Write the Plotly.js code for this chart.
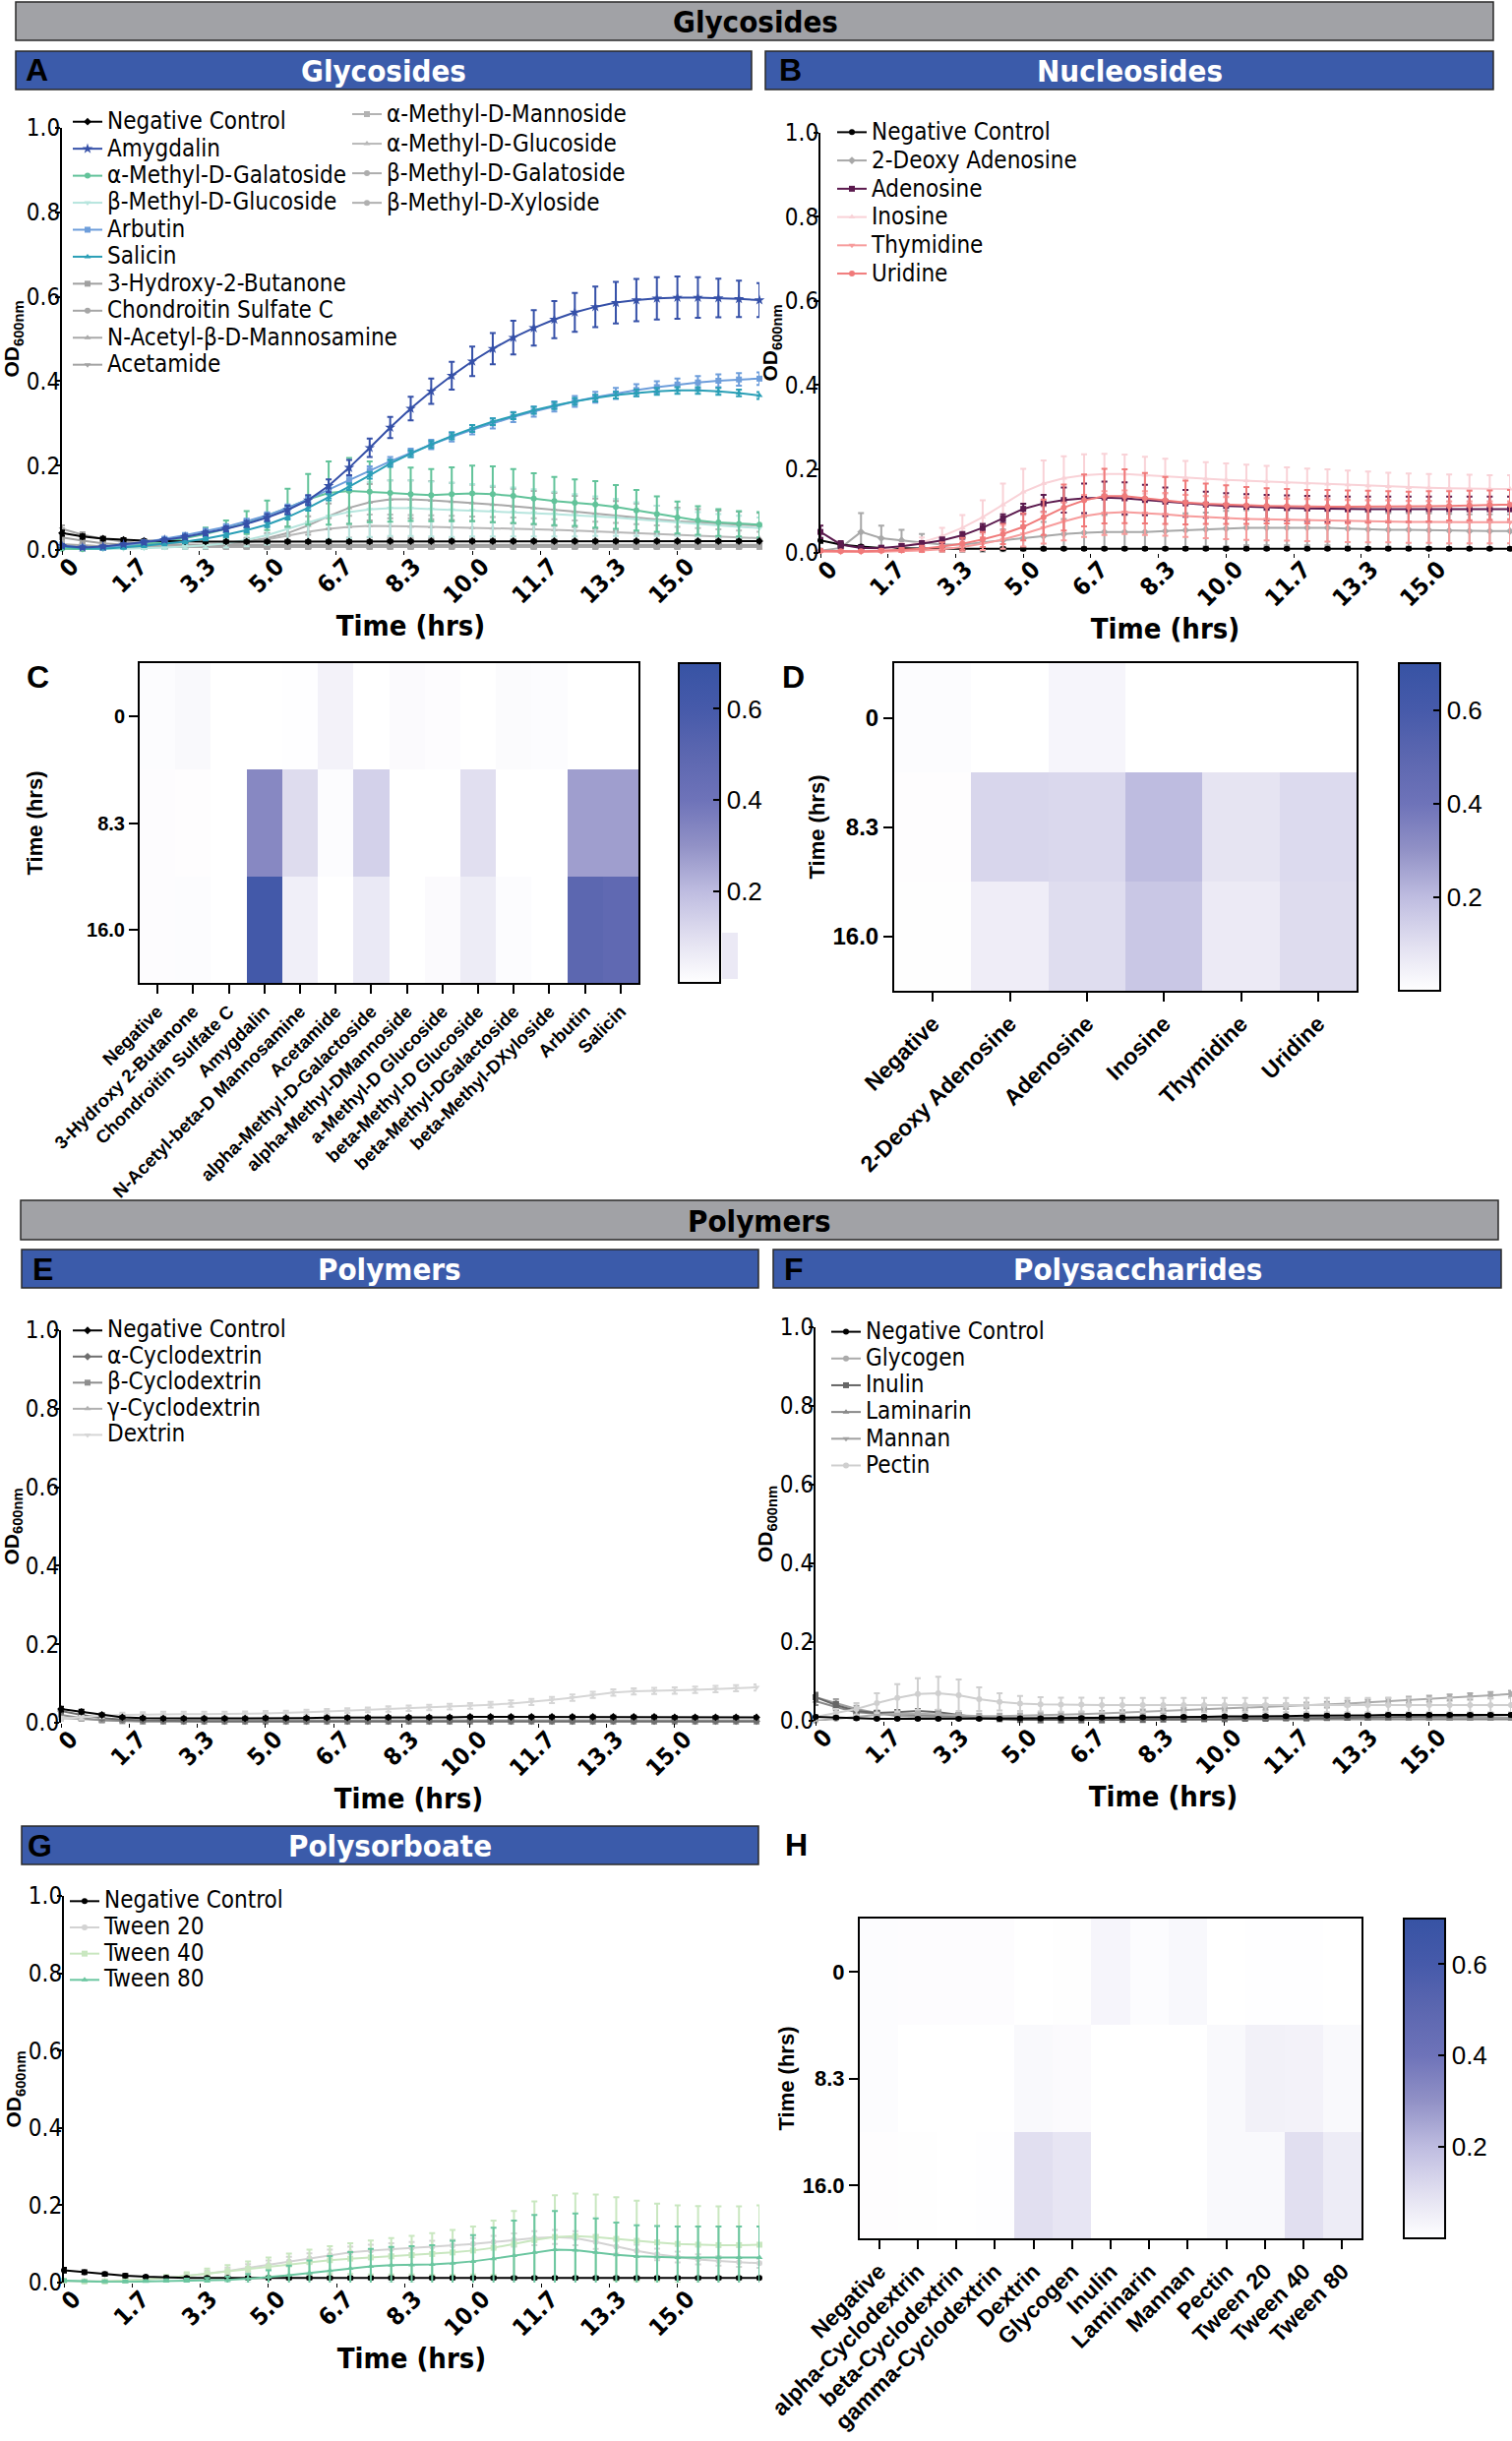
<!DOCTYPE html>
<html>
<head>
<meta charset="utf-8">
<script src="https://cdn.plot.ly/plotly-3.0.1.min.js"></script>
<style>
  html, body { margin: 0; padding: 0; background: #fff; }
  #fig { width: 1537px; height: 2481px; }
</style>
</head>
<body>
<div id="fig"></div>
<script>
// sampling times (hrs) and x tick labels shared by all growth curves
const timeHrs = [0,0.5,1,1.5,2,2.5,3, 3.5,4,4.5,5,5.5,6,6.5, 7,7.5,8,8.5,9,9.5,10, 10.5,11,11.5,12,12.5,13,13.5, 14,14.5,15,15.5,16,16.5,17];
const timeTickVals = [0, 5/3, 10/3, 5, 20/3, 25/3, 10, 35/3, 40/3, 15];
const timeTickText = ['0','1.7','3.3','5.0','6.7','8.3','10.0','11.7','13.3','15.0'];

// A - Glycosides (mean OD600 and SD)
const glyNegMean = [0.040,0.032,0.027,0.024,0.022,0.021,0.020, 0.020,0.020,0.020,0.020,0.020,0.020,0.020, 0.020,0.020,0.021,0.021,0.021,0.021,0.021, 0.021,0.021,0.021,0.021,0.021,0.021,0.021, 0.021,0.021,0.021,0.021,0.021,0.021,0.021];
const glyNegErr = [0.006,0.005,0.004,0.004,0.003,0.003,0.003, 0.003,0.003,0.003,0.003,0.003,0.003,0.003, 0.003,0.003,0.003,0.003,0.003,0.003,0.003, 0.003,0.003,0.003,0.003,0.003,0.003,0.003, 0.003,0.003,0.003,0.003,0.003,0.003,0.003];
const amyMean = [0.010,0.006,0.008,0.013,0.018,0.024,0.031, 0.040,0.050,0.062,0.077,0.095,0.118,0.152, 0.195,0.242,0.290,0.335,0.376,0.413,0.447, 0.477,0.503,0.526,0.546,0.563,0.576,0.586, 0.592,0.596,0.598,0.598,0.597,0.595,0.592];
const amyErr = [0.004,0.003,0.003,0.003,0.004,0.004,0.005, 0.005,0.006,0.007,0.008,0.010,0.012,0.015, 0.018,0.022,0.025,0.028,0.030,0.033,0.035, 0.037,0.040,0.042,0.044,0.046,0.048,0.049, 0.050,0.050,0.050,0.048,0.046,0.043,0.040];
const arbMean = [0.010,0.006,0.005,0.010,0.018,0.026,0.035, 0.045,0.055,0.068,0.082,0.100,0.120,0.143, 0.165,0.188,0.210,0.230,0.250,0.268,0.285, 0.300,0.315,0.328,0.340,0.352,0.362,0.371, 0.379,0.386,0.392,0.397,0.401,0.404,0.406];
const arbErr = [0.004,0.004,0.004,0.004,0.004,0.005,0.005, 0.005,0.006,0.006,0.007,0.008,0.008,0.009, 0.009,0.010,0.010,0.010,0.011,0.011,0.011, 0.012,0.012,0.012,0.012,0.013,0.013,0.013, 0.014,0.014,0.014,0.015,0.015,0.015,0.015];
const salMean = [0.008,0.004,0.003,0.006,0.010,0.015,0.020, 0.027,0.036,0.047,0.060,0.078,0.100,0.125, 0.150,0.177,0.205,0.228,0.250,0.270,0.288, 0.304,0.318,0.331,0.342,0.352,0.360,0.367, 0.372,0.376,0.378,0.378,0.376,0.372,0.366];
const salErr = [0.004,0.003,0.003,0.003,0.003,0.004,0.004, 0.004,0.005,0.005,0.006,0.006,0.007,0.007, 0.008,0.008,0.008,0.008,0.008,0.008,0.008, 0.008,0.008,0.008,0.008,0.008,0.008,0.008, 0.008,0.008,0.008,0.008,0.008,0.008,0.008];
const aGalMean = [0.003,0.002,0.004,0.008,0.014,0.020,0.028, 0.038,0.050,0.065,0.082,0.100,0.120,0.135, 0.140,0.138,0.135,0.132,0.130,0.132,0.134, 0.132,0.128,0.122,0.116,0.112,0.108,0.102, 0.094,0.085,0.077,0.070,0.065,0.062,0.060];
const aGalErr = [0.003,0.003,0.003,0.003,0.003,0.006,0.010, 0.015,0.020,0.027,0.035,0.045,0.060,0.075, 0.078,0.072,0.068,0.063,0.062,0.064,0.066, 0.066,0.064,0.060,0.057,0.055,0.055,0.052, 0.048,0.042,0.038,0.034,0.032,0.030,0.030];
const bGluMean = [0.003,0.002,0.002,0.003,0.004,0.006,0.008, 0.011,0.016,0.024,0.035,0.050,0.066,0.080, 0.090,0.096,0.099,0.099,0.097,0.095,0.094, 0.092,0.090,0.088,0.085,0.082,0.080,0.077, 0.073,0.069,0.065,0.061,0.058,0.055,0.052];
const bGluErr = [0.003,0.003,0.003,0.003,0.003,0.004,0.005, 0.007,0.010,0.015,0.022,0.032,0.045,0.055, 0.062,0.065,0.066,0.066,0.065,0.064,0.062, 0.060,0.058,0.056,0.053,0.050,0.047,0.044, 0.040,0.036,0.032,0.029,0.027,0.026,0.025];
const hydMean = [0.030,0.022,0.016,0.013,0.012,0.011,0.011, 0.011,0.010,0.010,0.010,0.010,0.010,0.010, 0.010,0.010,0.010,0.010,0.010,0.010,0.010, 0.010,0.010,0.010,0.010,0.010,0.010,0.010, 0.010,0.010,0.010,0.010,0.010,0.010,0.010];
const hydErr = [0.006,0.005,0.004,0.004,0.004,0.004,0.004, 0.004,0.004,0.004,0.004,0.004,0.004,0.004, 0.004,0.004,0.004,0.004,0.004,0.004,0.004, 0.004,0.004,0.004,0.004,0.004,0.004,0.004, 0.004,0.004,0.004,0.004,0.004,0.004,0.004];
const chonMean = [0.012,0.010,0.009,0.009,0.008,0.008,0.008, 0.008,0.008,0.008,0.008,0.008,0.008,0.008, 0.008,0.008,0.008,0.008,0.008,0.008,0.008, 0.008,0.008,0.008,0.008,0.008,0.008,0.008, 0.008,0.008,0.008,0.008,0.008,0.008,0.008];
const chonErr = [0.004,0.004,0.004,0.004,0.004,0.004,0.004, 0.004,0.004,0.004,0.004,0.004,0.004,0.004, 0.004,0.004,0.004,0.004,0.004,0.004,0.004, 0.004,0.004,0.004,0.004,0.004,0.004,0.004, 0.004,0.004,0.004,0.004,0.004,0.004,0.004];
const nacMean = [0.010,0.008,0.007,0.007,0.008,0.009,0.010, 0.012,0.015,0.020,0.028,0.040,0.058,0.080, 0.100,0.113,0.120,0.120,0.118,0.115,0.112, 0.108,0.104,0.100,0.096,0.091,0.086,0.081, 0.076,0.072,0.068,0.065,0.062,0.060,0.058];
const nacErr = [0.004,0.004,0.004,0.004,0.004,0.004,0.004, 0.005,0.006,0.008,0.011,0.016,0.022,0.030, 0.038,0.043,0.045,0.045,0.045,0.044,0.043, 0.042,0.041,0.040,0.039,0.037,0.036,0.035, 0.034,0.033,0.032,0.032,0.031,0.031,0.030];
const acetMean = [0.050,0.036,0.026,0.020,0.016,0.014,0.013, 0.012,0.012,0.012,0.012,0.012,0.012,0.012, 0.012,0.012,0.012,0.012,0.012,0.012,0.012, 0.012,0.012,0.012,0.012,0.012,0.012,0.012, 0.012,0.012,0.012,0.012,0.012,0.012,0.012];
const acetErr = [0.008,0.006,0.005,0.004,0.004,0.004,0.004, 0.004,0.004,0.004,0.004,0.004,0.004,0.004, 0.004,0.004,0.004,0.004,0.004,0.004,0.004, 0.004,0.004,0.004,0.004,0.004,0.004,0.004, 0.004,0.004,0.004,0.004,0.004,0.004,0.004];
const aManMean = [0.014,0.011,0.009,0.008,0.007,0.007,0.007, 0.007,0.007,0.007,0.007,0.007,0.007,0.007, 0.007,0.007,0.007,0.007,0.007,0.007,0.007, 0.007,0.007,0.007,0.007,0.007,0.007,0.007, 0.007,0.007,0.007,0.007,0.007,0.007,0.007];
const aManErr = [0.003,0.003,0.003,0.003,0.003,0.003,0.003, 0.003,0.003,0.003,0.003,0.003,0.003,0.003, 0.003,0.003,0.003,0.003,0.003,0.003,0.003, 0.003,0.003,0.003,0.003,0.003,0.003,0.003, 0.003,0.003,0.003,0.003,0.003,0.003,0.003];
const aGluMean = [0.010,0.008,0.006,0.006,0.006,0.007,0.008, 0.010,0.013,0.018,0.025,0.034,0.043,0.050, 0.055,0.057,0.057,0.056,0.055,0.054,0.053, 0.052,0.051,0.050,0.048,0.046,0.044,0.042, 0.040,0.038,0.036,0.034,0.032,0.030,0.028];
const aGluErr = [0.004,0.004,0.004,0.004,0.004,0.004,0.005, 0.006,0.008,0.011,0.015,0.019,0.022,0.025, 0.026,0.027,0.027,0.027,0.027,0.027,0.026, 0.026,0.026,0.025,0.025,0.024,0.023,0.022, 0.021,0.020,0.019,0.018,0.017,0.016,0.015];
const bGalMean = [0.011,0.009,0.008,0.008,0.008,0.008,0.008, 0.008,0.008,0.008,0.008,0.008,0.008,0.008, 0.008,0.008,0.008,0.008,0.008,0.008,0.008, 0.008,0.008,0.008,0.008,0.008,0.008,0.008, 0.008,0.008,0.008,0.008,0.008,0.008,0.008];
const bGalErr = [0.003,0.003,0.003,0.003,0.003,0.003,0.003, 0.003,0.003,0.003,0.003,0.003,0.003,0.003, 0.003,0.003,0.003,0.003,0.003,0.003,0.003, 0.003,0.003,0.003,0.003,0.003,0.003,0.003, 0.003,0.003,0.003,0.003,0.003,0.003,0.003];
const bXylMean = [0.012,0.009,0.008,0.007,0.007,0.007,0.007, 0.007,0.007,0.007,0.007,0.007,0.007,0.007, 0.007,0.007,0.007,0.007,0.007,0.007,0.007, 0.007,0.007,0.007,0.007,0.007,0.007,0.007, 0.007,0.007,0.007,0.007,0.007,0.007,0.007];
const bXylErr = [0.003,0.003,0.003,0.003,0.003,0.003,0.003, 0.003,0.003,0.003,0.003,0.003,0.003,0.003, 0.003,0.003,0.003,0.003,0.003,0.003,0.003, 0.003,0.003,0.003,0.003,0.003,0.003,0.003, 0.003,0.003,0.003,0.003,0.003,0.003,0.003];

// B - Nucleosides
const nucNegMean = [0.030,0.020,0.015,0.012,0.011,0.010,0.010, 0.010,0.010,0.010,0.010,0.010,0.010,0.010, 0.010,0.010,0.010,0.010,0.010,0.010,0.010, 0.010,0.010,0.010,0.010,0.010,0.010,0.010, 0.010,0.010,0.010,0.010,0.010,0.010,0.010];
const nucNegErr = [0.006,0.004,0.003,0.003,0.003,0.003,0.003, 0.003,0.003,0.003,0.003,0.003,0.003,0.003, 0.003,0.003,0.003,0.003,0.003,0.003,0.003, 0.003,0.003,0.003,0.003,0.003,0.003,0.003, 0.003,0.003,0.003,0.003,0.003,0.003,0.003];
const deoxyMean = [0.005,0.012,0.050,0.035,0.030,0.025,0.020, 0.020,0.025,0.030,0.035,0.040,0.045,0.048, 0.050,0.050,0.050,0.052,0.054,0.056,0.058, 0.060,0.060,0.060,0.060,0.060,0.058,0.056, 0.055,0.055,0.054,0.053,0.052,0.052,0.052];
const deoxyErr = [0.005,0.010,0.045,0.030,0.025,0.020,0.018, 0.018,0.022,0.026,0.030,0.034,0.036,0.038, 0.040,0.040,0.040,0.040,0.040,0.040,0.042, 0.042,0.042,0.042,0.042,0.042,0.042,0.042, 0.040,0.040,0.040,0.040,0.040,0.040,0.040];
const adenMean = [0.050,0.020,0.012,0.012,0.016,0.022,0.030, 0.042,0.060,0.082,0.105,0.118,0.126,0.130, 0.132,0.130,0.126,0.122,0.118,0.115,0.112, 0.110,0.108,0.107,0.106,0.105,0.104,0.104, 0.104,0.104,0.104,0.104,0.104,0.104,0.104];
const adenErr = [0.015,0.008,0.005,0.005,0.005,0.006,0.007, 0.008,0.009,0.010,0.012,0.020,0.030,0.035, 0.038,0.038,0.036,0.034,0.032,0.031,0.030, 0.030,0.030,0.030,0.030,0.030,0.030,0.030, 0.030,0.030,0.030,0.030,0.030,0.030,0.030];
const inoMean = [0.005,0.003,0.004,0.008,0.015,0.025,0.040, 0.060,0.085,0.115,0.145,0.165,0.178,0.185, 0.188,0.188,0.185,0.182,0.179,0.176,0.174, 0.172,0.170,0.168,0.166,0.164,0.162,0.160, 0.158,0.156,0.155,0.154,0.153,0.152,0.152];
const inoErr = [0.003,0.003,0.003,0.005,0.008,0.012,0.020, 0.030,0.040,0.050,0.055,0.055,0.052,0.050, 0.048,0.046,0.044,0.042,0.040,0.040,0.039, 0.038,0.037,0.036,0.035,0.035,0.034,0.034, 0.033,0.033,0.033,0.033,0.033,0.033,0.033];
const thyMean = [0.003,0.002,0.002,0.003,0.004,0.006,0.009, 0.014,0.022,0.032,0.045,0.060,0.075,0.088, 0.095,0.097,0.095,0.092,0.088,0.085,0.083, 0.081,0.080,0.079,0.078,0.077,0.076,0.075, 0.075,0.074,0.074,0.073,0.073,0.073,0.073];
const thyErr = [0.003,0.003,0.003,0.003,0.003,0.004,0.006, 0.010,0.015,0.022,0.030,0.038,0.045,0.050, 0.052,0.052,0.052,0.051,0.050,0.050,0.050, 0.050,0.050,0.050,0.050,0.050,0.050,0.050, 0.050,0.050,0.050,0.050,0.050,0.050,0.050];
const uriMean = [0.005,0.004,0.004,0.005,0.007,0.010,0.015, 0.022,0.032,0.045,0.062,0.085,0.108,0.125, 0.135,0.135,0.130,0.125,0.120,0.117,0.115, 0.113,0.112,0.111,0.110,0.110,0.110,0.110, 0.110,0.110,0.111,0.112,0.113,0.114,0.115];
const uriErr = [0.004,0.003,0.003,0.004,0.005,0.007,0.010, 0.014,0.018,0.024,0.032,0.042,0.055,0.062, 0.065,0.064,0.060,0.056,0.052,0.048,0.046, 0.044,0.042,0.041,0.040,0.040,0.039,0.038, 0.037,0.036,0.036,0.035,0.035,0.035,0.035];

// E - Polymers
const polNegMean = [0.035,0.028,0.020,0.014,0.012,0.011,0.011, 0.011,0.011,0.011,0.012,0.012,0.012,0.013, 0.013,0.013,0.014,0.014,0.014,0.014,0.015, 0.015,0.015,0.015,0.015,0.015,0.015,0.015, 0.015,0.015,0.014,0.014,0.014,0.014,0.014];
const polNegErr = [0.006,0.005,0.004,0.003,0.003,0.003,0.003, 0.003,0.003,0.003,0.003,0.003,0.003,0.003, 0.003,0.003,0.003,0.003,0.003,0.003,0.003, 0.003,0.003,0.003,0.003,0.003,0.003,0.003, 0.003,0.003,0.003,0.003,0.003,0.003,0.003];
const aCycMean = [0.030,0.020,0.012,0.008,0.006,0.005,0.004, 0.004,0.004,0.004,0.004,0.004,0.004,0.004, 0.004,0.004,0.004,0.004,0.004,0.004,0.004, 0.004,0.004,0.004,0.004,0.004,0.004,0.004, 0.004,0.004,0.004,0.004,0.004,0.004,0.004];
const aCycErr = [0.006,0.005,0.004,0.003,0.003,0.003,0.003, 0.003,0.003,0.003,0.003,0.003,0.003,0.003, 0.003,0.003,0.003,0.003,0.003,0.003,0.003, 0.003,0.003,0.003,0.003,0.003,0.003,0.003, 0.003,0.003,0.003,0.003,0.003,0.003,0.003];
const bCycMean = [0.020,0.012,0.006,0.004,0.003,0.003,0.003, 0.003,0.003,0.003,0.003,0.003,0.003,0.003, 0.003,0.003,0.003,0.003,0.003,0.003,0.003, 0.003,0.003,0.003,0.003,0.003,0.003,0.003, 0.003,0.003,0.003,0.003,0.003,0.003,0.003];
const bCycErr = [0.008,0.005,0.004,0.003,0.003,0.003,0.003, 0.003,0.003,0.003,0.003,0.003,0.003,0.003, 0.003,0.003,0.003,0.003,0.003,0.003,0.003, 0.003,0.003,0.003,0.003,0.003,0.003,0.003, 0.003,0.003,0.003,0.003,0.003,0.003,0.003];
const gCycMean = [0.012,0.009,0.007,0.006,0.006,0.006,0.006, 0.006,0.006,0.006,0.006,0.006,0.006,0.006, 0.006,0.006,0.006,0.006,0.006,0.006,0.006, 0.006,0.006,0.006,0.006,0.006,0.006,0.006, 0.006,0.006,0.006,0.006,0.006,0.006,0.006];
const gCycErr = [0.004,0.004,0.004,0.004,0.004,0.004,0.004, 0.004,0.004,0.004,0.004,0.004,0.004,0.004, 0.004,0.004,0.004,0.004,0.004,0.004,0.004, 0.004,0.004,0.004,0.004,0.004,0.004,0.004, 0.004,0.004,0.004,0.004,0.004,0.004,0.004];
const dextMean = [0.010,0.014,0.018,0.020,0.021,0.022,0.022, 0.022,0.022,0.023,0.024,0.025,0.027,0.029, 0.031,0.033,0.035,0.037,0.039,0.041,0.043, 0.046,0.049,0.053,0.058,0.064,0.071,0.077, 0.080,0.081,0.082,0.084,0.086,0.088,0.090];
const dextErr = [0.005,0.006,0.006,0.006,0.006,0.006,0.006, 0.006,0.006,0.006,0.006,0.006,0.006,0.006, 0.006,0.006,0.007,0.007,0.007,0.007,0.007, 0.007,0.008,0.008,0.008,0.008,0.008,0.008, 0.008,0.008,0.008,0.008,0.008,0.008,0.008];

// F - Polysaccharides
const psNegMean = [0.010,0.008,0.006,0.005,0.005,0.005,0.005, 0.005,0.005,0.005,0.006,0.006,0.007,0.007, 0.008,0.008,0.009,0.009,0.010,0.010,0.011, 0.011,0.012,0.012,0.013,0.013,0.014,0.014, 0.015,0.015,0.015,0.015,0.015,0.015,0.015];
const psNegErr = [0.003,0.003,0.003,0.003,0.003,0.003,0.003, 0.003,0.003,0.003,0.003,0.003,0.003,0.003, 0.003,0.003,0.003,0.003,0.003,0.003,0.003, 0.003,0.003,0.003,0.003,0.003,0.003,0.003, 0.003,0.003,0.003,0.003,0.003,0.003,0.003];
const glycMean = [0.000,0.005,0.010,0.015,0.018,0.018,0.016, 0.014,0.012,0.012,0.013,0.014,0.015,0.017, 0.019,0.021,0.023,0.025,0.027,0.029,0.031, 0.033,0.035,0.037,0.039,0.041,0.044,0.047, 0.050,0.053,0.056,0.059,0.062,0.065,0.068];
const glycErr = [0.004,0.005,0.006,0.006,0.006,0.006,0.006, 0.006,0.006,0.006,0.006,0.006,0.006,0.006, 0.006,0.006,0.006,0.006,0.006,0.006,0.006, 0.007,0.007,0.007,0.007,0.007,0.007,0.007, 0.008,0.008,0.008,0.008,0.008,0.008,0.008];
const inulMean = [0.060,0.040,0.025,0.020,0.022,0.025,0.022, 0.015,0.008,0.004,0.002,0.001,0.001,0.001, 0.001,0.002,0.002,0.003,0.003,0.004,0.004, 0.005,0.005,0.006,0.006,0.007,0.008,0.009, 0.010,0.011,0.012,0.013,0.014,0.015,0.015];
const inulErr = [0.010,0.008,0.006,0.005,0.005,0.005,0.005, 0.004,0.003,0.003,0.003,0.003,0.003,0.003, 0.003,0.003,0.003,0.003,0.003,0.003,0.003, 0.003,0.003,0.003,0.003,0.003,0.003,0.003, 0.003,0.003,0.003,0.003,0.003,0.003,0.003];
const lamMean = [0.050,0.035,0.022,0.018,0.016,0.014,0.012, 0.010,0.008,0.006,0.005,0.004,0.004,0.004, 0.004,0.004,0.004,0.004,0.004,0.004,0.004, 0.004,0.004,0.004,0.004,0.004,0.004,0.004, 0.004,0.004,0.004,0.004,0.004,0.004,0.004];
const lamErr = [0.010,0.008,0.006,0.005,0.004,0.004,0.004, 0.003,0.003,0.003,0.003,0.003,0.003,0.003, 0.003,0.003,0.003,0.003,0.003,0.003,0.003, 0.003,0.003,0.003,0.003,0.003,0.003,0.003, 0.003,0.003,0.003,0.003,0.003,0.003,0.003];
const mannMean = [0.060,0.045,0.030,0.020,0.012,0.010,0.009, 0.008,0.008,0.008,0.008,0.008,0.008,0.008, 0.008,0.008,0.008,0.008,0.008,0.008,0.008, 0.008,0.008,0.008,0.008,0.008,0.008,0.008, 0.008,0.008,0.008,0.008,0.008,0.008,0.008];
const mannErr = [0.012,0.010,0.008,0.006,0.004,0.004,0.004, 0.003,0.003,0.003,0.003,0.003,0.003,0.003, 0.003,0.003,0.003,0.003,0.003,0.003,0.003, 0.003,0.003,0.003,0.003,0.003,0.003,0.003, 0.003,0.003,0.003,0.003,0.003,0.003,0.003];
const pectMean = [0.010,0.020,0.030,0.045,0.058,0.068,0.070, 0.065,0.055,0.048,0.044,0.042,0.041,0.041, 0.040,0.040,0.040,0.040,0.040,0.040,0.040, 0.040,0.040,0.040,0.040,0.040,0.040,0.040, 0.040,0.040,0.040,0.040,0.040,0.040,0.040];
const pectErr = [0.005,0.010,0.015,0.025,0.035,0.040,0.042, 0.040,0.030,0.022,0.019,0.018,0.018,0.018, 0.018,0.018,0.018,0.018,0.018,0.018,0.018, 0.018,0.018,0.018,0.018,0.018,0.018,0.018, 0.018,0.018,0.018,0.018,0.018,0.018,0.018];

// G - Polysorboate
const sorbNegMean = [0.032,0.027,0.022,0.018,0.015,0.013,0.012, 0.012,0.012,0.012,0.012,0.012,0.012,0.012, 0.012,0.012,0.012,0.012,0.012,0.012,0.012, 0.012,0.012,0.012,0.012,0.012,0.012,0.012, 0.012,0.012,0.012,0.012,0.012,0.012,0.012];
const sorbNegErr = [0.006,0.005,0.004,0.004,0.003,0.003,0.003, 0.003,0.003,0.003,0.003,0.003,0.003,0.003, 0.003,0.003,0.003,0.003,0.003,0.003,0.003, 0.003,0.003,0.003,0.003,0.003,0.003,0.003, 0.003,0.003,0.003,0.003,0.003,0.003,0.003];
const tw20Mean = [0.004,0.003,0.003,0.005,0.008,0.012,0.017, 0.023,0.030,0.038,0.046,0.055,0.063,0.071, 0.078,0.083,0.087,0.090,0.093,0.096,0.100, 0.105,0.110,0.115,0.118,0.115,0.105,0.093, 0.082,0.073,0.066,0.060,0.056,0.053,0.050];
const tw20Err = [0.003,0.003,0.003,0.004,0.005,0.006,0.007, 0.008,0.009,0.010,0.011,0.012,0.013,0.014, 0.015,0.015,0.015,0.015,0.015,0.015,0.015, 0.016,0.017,0.018,0.018,0.018,0.018,0.018, 0.016,0.015,0.014,0.013,0.012,0.012,0.012];
const tw40Mean = [0.005,0.003,0.003,0.005,0.008,0.012,0.017, 0.023,0.029,0.035,0.041,0.047,0.053,0.058, 0.062,0.065,0.068,0.071,0.074,0.078,0.083, 0.090,0.100,0.110,0.118,0.120,0.118,0.113, 0.108,0.104,0.100,0.098,0.097,0.097,0.098];
const tw40Err = [0.003,0.003,0.003,0.004,0.006,0.008,0.010, 0.013,0.016,0.020,0.024,0.028,0.032,0.036, 0.040,0.044,0.047,0.050,0.054,0.058,0.062, 0.070,0.085,0.100,0.108,0.110,0.110,0.108, 0.104,0.100,0.100,0.100,0.100,0.100,0.102];
const tw80Mean = [0.005,0.003,0.002,0.002,0.003,0.004,0.005, 0.006,0.007,0.010,0.014,0.019,0.025,0.031, 0.037,0.042,0.045,0.046,0.047,0.050,0.055, 0.062,0.070,0.078,0.085,0.084,0.078,0.072, 0.068,0.066,0.065,0.065,0.065,0.065,0.065];
const tw80Err = [0.003,0.003,0.003,0.003,0.003,0.004,0.005, 0.006,0.008,0.012,0.018,0.025,0.032,0.038, 0.042,0.045,0.047,0.048,0.050,0.058,0.068, 0.080,0.090,0.097,0.100,0.095,0.088,0.083, 0.080,0.080,0.080,0.080,0.080,0.080,0.080];

// heatmaps (C, D, H): OD600 at 0, 8.3 and 16 hrs
const heatTimes = ['0', '8.3', '16.0'];
const glyHeatCats = ['Negative','3-Hydroxy 2-Butanone','Chondroitin Sulfate C','Amygdalin','N-Acetyl-beta-D Mannosamine','Acetamide','alpha-Methyl-D-Galactoside','alpha-Methyl-DMannoside','a-Methyl-D Glucoside','beta-Methyl-D Glucoside','beta-Methyl-DGalactoside','beta-Methyl-DXyloside','Arbutin','Salicin'];
const glyHeat0 = [0.010,0.020,0.000,0.000,0.003,0.040,0.000,0.015,0.008,0.000,0.012,0.010,0.000,0.000];
const glyHeat8 = [0.008,0.005,0.000,0.330,0.110,0.010,0.140,0.000,0.000,0.100,0.000,0.000,0.270,0.270];
const glyHeat16 = [0.008,0.010,0.000,0.620,0.050,0.000,0.070,0.000,0.015,0.060,0.010,0.000,0.500,0.480];
const nucHeatCats = ['Negative','2-Deoxy Adenosine','Adenosine','Inosine','Thymidine','Uridine'];
const nucHeat0 = [0.010,0.000,0.030,0.000,0.000,0.000];
const nucHeat8 = [0.005,0.125,0.120,0.200,0.085,0.115];
const nucHeat16 = [0.004,0.055,0.105,0.170,0.065,0.110];
const polHeatCats = ['Negative','alpha-Cyclodextrin','beta-Cyclodextrin','gamma-Cyclodextrin','Dextrin','Glycogen','Inulin','Laminarin','Mannan','Pectin','Tween 20','Tween 40','Tween 80'];
const polHeat0 = [0.010,0.008,0.008,0.008,0.000,0.004,0.030,0.010,0.022,0.000,0.002,0.002,0.000];
const polHeat8 = [0.010,0.000,0.000,0.000,0.020,0.015,0.000,0.000,0.000,0.020,0.045,0.040,0.020];
const polHeat16 = [0.005,0.004,0.000,0.003,0.100,0.080,0.000,0.000,0.000,0.020,0.020,0.100,0.060];

const heatScale = [[0,'#ffffff'],[0.143,'#e1dff0'],[0.286,'#bebce0'],[0.43,'#9191c6'],[0.571,'#6e73b9'],[0.714,'#5c67b0'],[0.857,'#465aaa'],[1,'#3753a4']];

// ---- page geometry (pixels -> paper) ----
const W = 1537, H = 2481;
const fx = p => p / W;
const fy = p => 1 - p / H;
const NARROW = '"Liberation Sans Narrow", "Arial Narrow", "DejaVu Sans Condensed", Arial, sans-serif';
const ARIAL = '"Liberation Sans", Arial, Helvetica, sans-serif';

function axId(n) { return n === 1 ? '' : String(n); }

function series(name, mean, err, color, symbol, n, legend, rank) {
  return {
    type: 'scatter', mode: 'lines+markers',
    x: timeHrs, y: mean,
    name: '<span style="font-size:24px">' + name + '</span>',
    xaxis: 'x' + axId(n), yaxis: 'y' + axId(n),
    legend: legend, legendrank: rank, cliponaxis: false,
    line: { color: color, width: 2 },
    marker: { color: color, symbol: symbol, size: symbol === 'star' ? 8 : 6 },
    error_y: { type: 'data', array: err, visible: true, color: color, thickness: 2, width: 3 },
    hoverinfo: 'skip'
  };
}

function heat(cats, rows, n, ca) {
  return {
    type: 'heatmap', x: cats, y: heatTimes, z: rows,
    xaxis: 'x' + n, yaxis: 'y' + n, coloraxis: ca, hoverinfo: 'skip'
  };
}

function timeAxis(x0, x1, anchor) {
  return {
    domain: [fx(x0), fx(x1)], anchor: anchor, range: [0, 17],
    tickvals: timeTickVals, ticktext: timeTickText, tickangle: -45,
    tickfont: { family: NARROW, size: 24, weight: 'bold', color: '#000' },
    ticks: 'outside', ticklen: 4, tickcolor: '#000',
    ticklabelstandoff: -12, ticklabelshift: 10,
    showline: false, showgrid: false, zeroline: false,
    title: { text: 'Time (hrs)', font: { family: NARROW, size: 29, weight: 'bold', color: '#000' }, standoff: 4 }
  };
}

function odAxis(y0, y1, anchor) {
  return {
    domain: [fy(y1), fy(y0)], anchor: anchor, range: [0, 1],
    tickvals: [0, 0.2, 0.4, 0.6, 0.8, 1.0], tickformat: '.1f',
    ticks: 'outside', ticklen: 5, tickwidth: 2, tickcolor: '#000', ticklabelstandoff: -10,
    showline: true, linewidth: 2, linecolor: '#000', showgrid: false, zeroline: false,
    tickfont: { family: NARROW, size: 24, color: '#000' },
    title: { text: 'OD<sub>600nm</sub>', font: { family: ARIAL, size: 21, weight: 'bold', color: '#000' }, standoff: 0 }
  };
}

function heatX(x0, x1, anchor, size) {
  return {
    domain: [fx(x0), fx(x1)], anchor: anchor, type: 'category', tickangle: -45,
    tickfont: { family: ARIAL, size: size, weight: 'bold', color: '#000' },
    ticks: 'outside', ticklen: 9, tickwidth: 2, tickcolor: '#000',
    showline: true, mirror: true, linewidth: 2, linecolor: '#000', showgrid: false, zeroline: false
  };
}

function heatY(y0, y1, anchor, size, standoff) {
  return {
    domain: [fy(y1), fy(y0)], anchor: anchor, type: 'category', autorange: 'reversed',
    tickfont: { family: ARIAL, size: size, weight: 'bold', color: '#000' },
    ticks: 'outside', ticklen: 9, tickwidth: 2, tickcolor: '#000',
    showline: true, mirror: true, linewidth: 2, linecolor: '#000', showgrid: false, zeroline: false,
    title: { text: 'Time (hrs)', font: { family: ARIAL, size: 22, weight: 'bold', color: '#000' }, standoff: standoff }
  };
}

function colorAxis(x0, y0, y1) {
  return {
    cmin: 0, cmax: 0.7, colorscale: heatScale,
    colorbar: {
      x: fx(x0), xanchor: 'left', y: fy(y0), yanchor: 'top',
      len: (y1 - y0) / H, lenmode: 'fraction', thickness: 42, thicknessmode: 'pixels',
      outlinewidth: 2, outlinecolor: '#000', xpad: 0, ypad: 0,
      tickvals: [0.2, 0.4, 0.6], ticktext: ['0.2', '0.4', '0.6'],
      ticks: 'inside', ticklen: 8, tickwidth: 2, tickcolor: '#000',
      tickfont: { family: ARIAL, size: 26, color: '#000' }
    }
  };
}

function legendAt(x, y, size) {
  return {
    x: fx(x), y: fy(y), xanchor: 'left', yanchor: 'top',
    bgcolor: 'rgba(0,0,0,0)', borderwidth: 0, tracegroupgap: 0, itemwidth: 30,
    traceorder: 'normal', font: { family: NARROW, size: size, color: '#000' }
  };
}

const traces = [
  // A
  series('α-Methyl-D-Mannoside', aManMean, aManErr, '#b3b3b3', 'square', 1, 'legend2', 1),
  series('α-Methyl-D-Glucoside', aGluMean, aGluErr, '#b8b8b8', 'triangle-up', 1, 'legend2', 2),
  series('β-Methyl-D-Galatoside', bGalMean, bGalErr, '#adadad', 'circle', 1, 'legend2', 3),
  series('β-Methyl-D-Xyloside', bXylMean, bXylErr, '#b0b0b0', 'circle', 1, 'legend2', 4),
  series('3-Hydroxy-2-Butanone', hydMean, hydErr, '#a0a0a0', 'square', 1, 'legend', 7),
  series('Chondroitin Sulfate C', chonMean, chonErr, '#a6a6a6', 'circle', 1, 'legend', 8),
  series('N-Acetyl-β-D-Mannosamine', nacMean, nacErr, '#a9a9a9', 'triangle-up', 1, 'legend', 9),
  series('Acetamide', acetMean, acetErr, '#a3a3a3', 'triangle-down', 1, 'legend', 10),
  series('β-Methyl-D-Glucoside', bGluMean, bGluErr, '#b7e5de', 'triangle-down', 1, 'legend', 4),
  series('α-Methyl-D-Galatoside', aGalMean, aGalErr, '#62c39a', 'circle', 1, 'legend', 3),
  series('Negative Control', glyNegMean, glyNegErr, '#000000', 'diamond', 1, 'legend', 1),
  series('Arbutin', arbMean, arbErr, '#6e9edb', 'square', 1, 'legend', 5),
  series('Salicin', salMean, salErr, '#2a9fb6', 'triangle-up', 1, 'legend', 6),
  series('Amygdalin', amyMean, amyErr, '#3550a8', 'star', 1, 'legend', 2),
  // B
  series('2-Deoxy Adenosine', deoxyMean, deoxyErr, '#a8a8a8', 'diamond', 2, 'legend3', 2),
  series('Negative Control', nucNegMean, nucNegErr, '#000000', 'circle', 2, 'legend3', 1),
  series('Inosine', inoMean, inoErr, '#f9d2d7', 'triangle-up', 2, 'legend3', 4),
  series('Adenosine', adenMean, adenErr, '#5b1a4e', 'square', 2, 'legend3', 3),
  series('Thymidine', thyMean, thyErr, '#f79c9c', 'triangle-down', 2, 'legend3', 5),
  series('Uridine', uriMean, uriErr, '#f07a7a', 'circle', 2, 'legend3', 6),
  // C, D
  heat(glyHeatCats, [glyHeat0, glyHeat8, glyHeat16], 3, 'coloraxis'),
  heat(nucHeatCats, [nucHeat0, nucHeat8, nucHeat16], 4, 'coloraxis2'),
  // E
  series('γ-Cyclodextrin', gCycMean, gCycErr, '#b0b0b0', 'triangle-up', 5, 'legend4', 4),
  series('β-Cyclodextrin', bCycMean, bCycErr, '#8e8e8e', 'square', 5, 'legend4', 3),
  series('α-Cyclodextrin', aCycMean, aCycErr, '#6e6e6e', 'diamond', 5, 'legend4', 2),
  series('Dextrin', dextMean, dextErr, '#d6d6d6', 'triangle-down', 5, 'legend4', 5),
  series('Negative Control', polNegMean, polNegErr, '#000000', 'diamond', 5, 'legend4', 1),
  // F
  series('Mannan', mannMean, mannErr, '#a0a0a0', 'triangle-down', 6, 'legend5', 5),
  series('Laminarin', lamMean, lamErr, '#888888', 'triangle-up', 6, 'legend5', 4),
  series('Inulin', inulMean, inulErr, '#666666', 'square', 6, 'legend5', 3),
  series('Glycogen', glycMean, glycErr, '#ababab', 'circle', 6, 'legend5', 2),
  series('Pectin', pectMean, pectErr, '#cfcfcf', 'circle', 6, 'legend5', 6),
  series('Negative Control', psNegMean, psNegErr, '#000000', 'circle', 6, 'legend5', 1),
  // G
  series('Tween 20', tw20Mean, tw20Err, '#d3d3d3', 'circle', 7, 'legend6', 2),
  series('Tween 40', tw40Mean, tw40Err, '#c9e7c0', 'square', 7, 'legend6', 3),
  series('Negative Control', sorbNegMean, sorbNegErr, '#000000', 'circle', 7, 'legend6', 1),
  series('Tween 80', tw80Mean, tw80Err, '#6bc6a0', 'triangle-up', 7, 'legend6', 4),
  // H
  heat(polHeatCats, [polHeat0, polHeat8, polHeat16], 8, 'coloraxis3')
];

function bar(x0, x1, y0, y1, fill) {
  return {
    type: 'rect', xref: 'paper', yref: 'paper', layer: 'below',
    x0: fx(x0), x1: fx(x1), y0: fy(y1), y1: fy(y0),
    fillcolor: fill, line: { color: '#2a2a2a', width: 1.5 }
  };
}

function label(text, x, y, size, color, family) {
  return {
    text: text, x: fx(x), y: fy(y), xref: 'paper', yref: 'paper',
    xanchor: 'center', yanchor: 'middle', showarrow: false,
    font: { family: family, size: size, weight: 'bold', color: color }
  };
}

const GRAY = '#a1a2a6', BLUE = '#3b5baa';

const layout = {
  width: W, height: H, margin: { l: 0, r: 0, t: 0, b: 0 },
  paper_bgcolor: '#ffffff', plot_bgcolor: 'rgba(0,0,0,0)',
  font: { family: ARIAL, color: '#000' },
  showlegend: true,
  xaxis: timeAxis(63, 772, 'y'), yaxis: odAxis(130, 559, 'x'),
  xaxis2: timeAxis(834, 1535, 'y2'), yaxis2: odAxis(135, 562, 'x2'),
  xaxis3: heatX(142, 649, 'y3', 18.5), yaxis3: heatY(674, 999, 'x3', 20, 38),
  xaxis4: heatX(909, 1379, 'y4', 23), yaxis4: heatY(674, 1007, 'x4', 24, 2),
  xaxis5: timeAxis(62, 769, 'y5'), yaxis5: odAxis(1352, 1751, 'x5'),
  xaxis6: timeAxis(829, 1536, 'y6'), yaxis6: odAxis(1349, 1749, 'x6'),
  xaxis7: timeAxis(65, 772, 'y7'), yaxis7: odAxis(1927, 2320, 'x7'),
  xaxis8: heatX(874, 1384, 'y8', 23), yaxis8: heatY(1950, 2275, 'x8', 22, 2),
  coloraxis: colorAxis(690, 674, 999),
  coloraxis2: colorAxis(1422, 674, 1007),
  coloraxis3: colorAxis(1427, 1950, 2275),
  legend: legendAt(69, 105, 18.8),
  legend2: legendAt(353, 96, 20.8),
  legend3: legendAt(846, 115, 19.8),
  legend4: legendAt(69, 1334, 18.1),
  legend5: legendAt(840, 1335, 18.6),
  legend6: legendAt(66, 1914, 18.2),
  shapes: [
    bar(16, 1518, 2, 41, GRAY),
    bar(16, 764, 52, 91, BLUE),
    bar(778, 1518, 52, 91, BLUE),
    bar(21, 1523, 1220, 1260, GRAY),
    bar(22, 771, 1270, 1309, BLUE),
    bar(786, 1526, 1270, 1309, BLUE),
    bar(22, 771, 1856, 1895, BLUE),
    { type: 'rect', xref: 'paper', yref: 'paper', x0: fx(734), x1: fx(750), y0: fy(995), y1: fy(948),
      fillcolor: '#ebe9f5', line: { width: 0 } }
  ],
  annotations: [
    label('Glycosides', 768, 22, 31, '#000', NARROW),
    label('Polymers', 772, 1241, 31, '#000', NARROW),
    label('Glycosides', 390, 72, 31, '#fff', NARROW),
    label('Nucleosides', 1148, 72, 31, '#fff', NARROW),
    label('Polymers', 396, 1290, 31, '#fff', NARROW),
    label('Polysaccharides', 1156, 1290, 31, '#fff', NARROW),
    label('Polysorboate', 396, 1876, 31, '#fff', NARROW),
    label('A', 37, 71, 32, '#000', ARIAL),
    label('B', 803, 71, 32, '#000', ARIAL),
    label('C', 38, 688, 32, '#000', ARIAL),
    label('D', 807, 688, 32, '#000', ARIAL),
    label('E', 43, 1290, 32, '#000', ARIAL),
    label('F', 807, 1290, 32, '#000', ARIAL),
    label('G', 40, 1876, 32, '#000', ARIAL),
    label('H', 809, 1875, 32, '#000', ARIAL)
  ]
};

Plotly.newPlot('fig', traces, layout, { displayModeBar: false, staticPlot: true });
</script>
</body>
</html>
